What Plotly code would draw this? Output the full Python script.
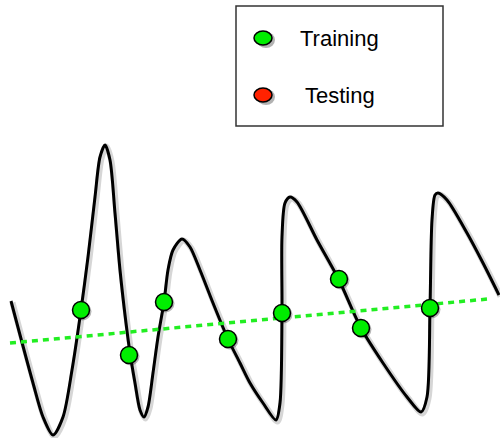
import plotly.graph_objects as go

# Overfitted curve (pixel-like units, y grows downward)
curve_x = [11, 33, 43, 53, 63, 72, 81, 88, 95, 100, 105, 110, 115, 120, 126, 130, 135, 140, 144, 148,
           153, 158, 164, 168, 173, 182, 190, 200, 213, 228, 240, 250, 263, 276, 280, 282, 282, 285,
           290, 297, 317, 339, 361, 383, 407, 421, 427, 430, 432, 435, 438, 447, 467, 483, 499]
curve_y = [301, 383, 417, 435, 417, 370, 310, 257, 197, 157, 145, 160, 213, 270, 323, 353, 383, 410, 417, 407,
           373, 337, 302, 270, 250, 239, 247, 270, 303, 339, 363, 383, 403, 420, 403, 313, 237, 203,
           197, 202, 240, 280, 328, 363, 397, 412, 397, 308, 220, 195, 193, 200, 233, 263, 295]

# Training samples
train_x = [81, 129, 164, 228, 282, 339, 361, 430]
train_y = [310, 355, 302, 339, 313, 279, 328, 308]

# Simple (linear) fit
fit_x = [10, 488]
fit_y = [343, 299]

legend_labels = ["Training", "Testing"]
legend_colors = ["#00ee00", "#ff2200"]

SH = 1.5      # shadow offset

fig = go.Figure()

# shadows on the base axes (shifted right/down)
fig.add_trace(go.Scatter(x=curve_x, y=curve_y, mode="lines",
                         line=dict(color="rgba(0,0,0,0.16)", width=6, shape="spline", smoothing=0.8),
                         hoverinfo="skip", showlegend=False))
fig.add_trace(go.Scatter(x=train_x, y=train_y, mode="markers",
                         marker=dict(size=18, color="rgba(0,0,0,0.28)", line=dict(width=0)),
                         hoverinfo="skip", showlegend=False))

# main marks on the overlay axes (drawn above)
fig.add_trace(go.Scatter(x=curve_x, y=curve_y, mode="lines", xaxis="x2", yaxis="y2",
                         line=dict(color="black", width=3, shape="spline", smoothing=0.8),
                         showlegend=False))
fig.add_trace(go.Scatter(x=fit_x, y=fit_y, mode="lines", xaxis="x2", yaxis="y2",
                         line=dict(color="#22ee22", width=3.5, dash="6px,5px"),
                         showlegend=False))
fig.add_trace(go.Scatter(x=train_x, y=train_y, mode="markers", name="Training", xaxis="x2", yaxis="y2",
                         marker=dict(size=17, color=legend_colors[0], line=dict(color="black", width=1.5)),
                         showlegend=False))

# Manual legend box
fig.add_shape(type="rect", xref="x2", yref="y2", x0=236, x1=443, y0=6, y1=126,
              line=dict(color="#333333", width=1.5), fillcolor="white", layer="below")
leg_y = [38, 95]
leg_tx = [298, 303]
for lab, col, ly, tx in zip(legend_labels, legend_colors, leg_y, leg_tx):
    fig.add_shape(type="circle", xref="x2", yref="y2", x0=264 - 7, x1=264 + 11, y0=ly - 6, y1=ly + 10,
                  line=dict(width=0), fillcolor="rgba(0,0,0,0.3)")
    fig.add_shape(type="circle", xref="x2", yref="y2", x0=263 - 9, x1=263 + 9, y0=ly - 7, y1=ly + 7,
                  line=dict(color="black", width=1.5), fillcolor=col)
    fig.add_annotation(x=tx, y=ly, xref="x2", yref="y2", text=lab, showarrow=False, xanchor="left", yanchor="middle",
                       font=dict(family="Liberation Sans, Arial, sans-serif", size=22, color="black"))

fig.update_layout(
    width=500, height=438,
    margin=dict(l=0, r=0, t=0, b=0),
    paper_bgcolor="white", plot_bgcolor="white",
    xaxis=dict(range=[-SH, 500 - SH], visible=False, fixedrange=True),
    yaxis=dict(range=[438 - SH, -SH], visible=False, fixedrange=True),
    xaxis2=dict(range=[0, 500], visible=False, overlaying="x", fixedrange=True),
    yaxis2=dict(range=[438, 0], visible=False, overlaying="y", fixedrange=True),
    showlegend=False,
)

fig.write_html("out.html", config={"displayModeBar": False},
               post_script="document.body.style.margin='0';")
